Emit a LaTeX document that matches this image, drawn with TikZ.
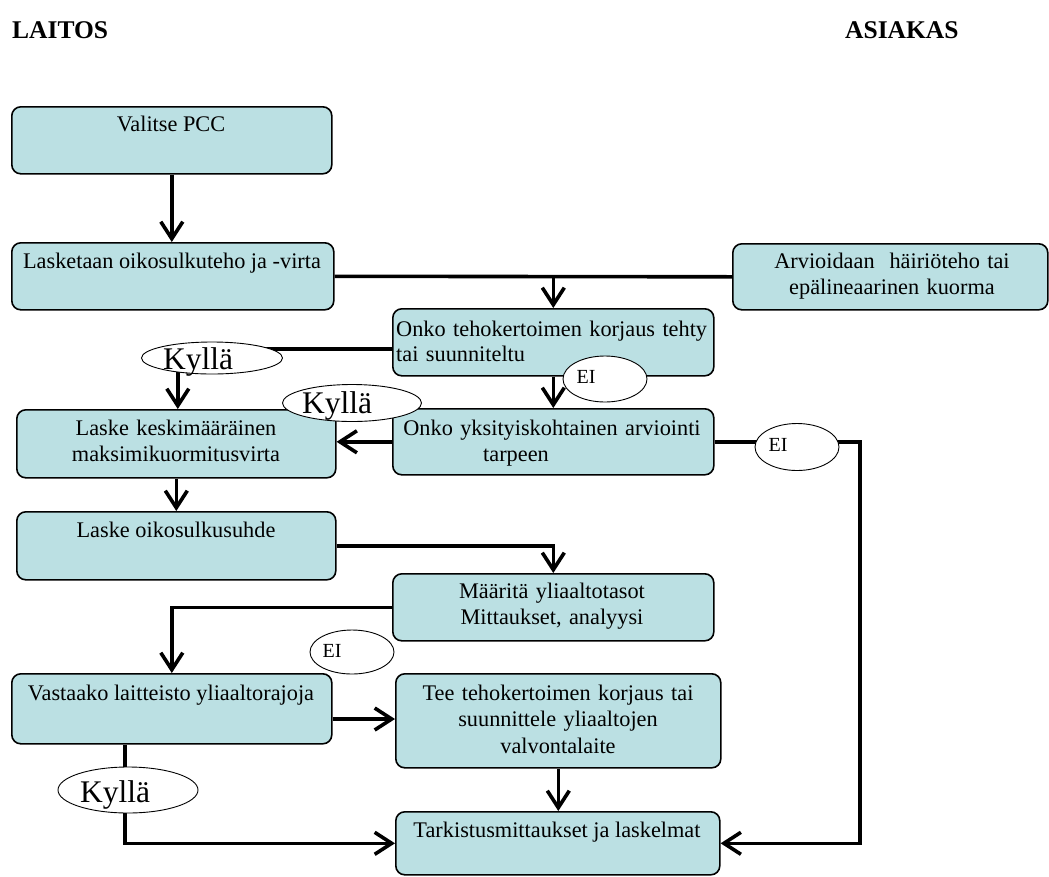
\documentclass[tikz,border=0pt]{standalone}
\usepackage{fontspec}
\setmainfont{Liberation Serif}
\usetikzlibrary{arrows.meta,shapes.geometric,backgrounds}
\definecolor{boxfill}{RGB}{187,224,227}
\tikzset{
  stepbox/.style={draw, line width=1.6pt, rounded corners=9pt, fill=boxfill, inner sep=0pt, anchor=north west},
  txt/.style={inner sep=0pt, font=\fontsize{22.3}{26.5}\selectfont, anchor=base},
  mtxt/.style={txt, text width=#1, align=center},
  ltxt/.style={inner sep=0pt, font=\fontsize{22.3}{25.5}\selectfont, anchor=base west, text width=315pt, align=left},
  oval/.style={draw, ellipse, line width=0.9pt, fill=white, inner sep=0pt},
  bigtxt/.style={inner sep=0pt, font=\fontsize{31.5}{34}\selectfont, anchor=base},
  eitxt/.style={inner sep=0pt, font=\fontsize{20}{22}\selectfont, anchor=base},
  ttl/.style={inner sep=0pt, font=\fontsize{25.5}{28}\selectfont\bfseries, anchor=base west},
  conn/.style={line width=3.6pt},
  arr/.style={line width=3.6pt, -{Straight Barb[length=17pt,width=22pt]}}
}
\begin{document}
\begin{tikzpicture}[x=1pt,y=-1pt]
\useasboundingbox (0,0) rectangle (1049,876);
% titles
\node[ttl] (laitos) at (12,38) {LAITOS};
\node[ttl] (asiakas) at (845,38) {ASIAKAS};
% boxes
\node[stepbox, minimum width=320pt, minimum height=67pt] (b1) at (11,106) {};
\node[stepbox, minimum width=322pt, minimum height=67pt] (b2) at (11,242) {};
\node[stepbox, minimum width=315pt, minimum height=66pt] (b3) at (732,243) {};
\node[stepbox, minimum width=321pt, minimum height=67pt] (b4) at (392,308) {};
\node[stepbox, minimum width=321pt, minimum height=66pt] (b5) at (392,408) {};
\node[stepbox, minimum width=319pt, minimum height=68pt] (b6) at (16,409) {};
\node[stepbox, minimum width=319pt, minimum height=68pt] (b7) at (16,511) {};
\node[stepbox, minimum width=321pt, minimum height=67pt] (b8) at (392,573) {};
\node[stepbox, minimum width=320pt, minimum height=70pt] (b9) at (11,673) {};
\node[stepbox, minimum width=325pt, minimum height=94pt] (b10) at (395,673) {};
\node[stepbox, minimum width=324pt, minimum height=63pt] (b11) at (395,811) {};
% texts in boxes
\node[txt] (t1) at (171,131) {Valitse PCC};
\node[txt] (t2) at (172,268) {Lasketaan oikosulkuteho ja -virta};
\node[mtxt=310pt] (t3) at (892,268) {Arvioidaan\ \ häiriöteho tai\\epälineaarinen kuorma};
\node[ltxt] (t4) at (396,336) {Onko tehokertoimen korjaus tehty\\tai suunniteltu};
\node[mtxt=318pt] (t5) at (552,435) {Onko yksityiskohtainen arviointi\\tarpeen\hspace*{72pt}\null};
\node[mtxt=315pt] (t6) at (176,435) {Laske keskimääräinen\\maksimikuormitusvirta};
\node[txt] (t7) at (176,537) {Laske oikosulkusuhde};
\node[mtxt=315pt] (t8) at (552,598) {Määritä yliaaltotasot\\Mittaukset, analyysi};
\node[txt] (t9) at (171,700) {Vastaako laitteisto yliaaltorajoja};
\node[mtxt=320pt] (t10) at (558,700) {Tee tehokertoimen korjaus tai\\suunnittele yliaaltojen\\valvontalaite};
\node[txt] (t11) at (557,837) {Tarkistusmittaukset ja laskelmat};
% helper coordinates
\coordinate (y349) at (0,349);
\coordinate (y719) at (0,719);
\coordinate (x125) at (125,0);
\coordinate (rt) at (860,443);
% ovals
\node[oval, minimum width=141pt, minimum height=32pt] (k1) at (212,358) {};
\node[oval, minimum width=139pt, minimum height=37pt] (k2) at (352,403) {};
\node[oval, minimum width=140pt, minimum height=46pt] (k3) at (128,790) {};
\node[oval, minimum width=84pt, minimum height=46pt] (e1) at (605,379) {};
\node[oval, minimum width=84pt, minimum height=47pt] (e2) at (797,447) {};
\node[oval, minimum width=84pt, minimum height=44pt] (e3) at (352,652) {};
% connectors
\begin{scope}[on background layer]
\draw[arr] (b1.south) -- (b1.south |- b2.north);
\draw[conn] (b2.east) -- (b3.west);
\draw[arr] (b4.north |- b2.east) -- (b4.north);
\draw[conn] (b4.west |- y349) -- (k1.center |- y349);
\draw[arr] (b6.north |- k1.center) ++(1.5,0) -- ++(0,51);
\draw[arr] (b4.south) -- (b5.north);
\draw[arr] (b5.west) -- (b5.west -| b6.east);
\draw[arr] (b5.east) -- (b5.east -| rt) |- (b11.east);
\draw[arr] (b6.south) -- (b7.north);
\draw[arr] (b7.east) -| (b8.north);
\draw[arr] (b8.west) -| (b9.north);
\draw[arr] (b9.east |- y719) -- (b10.west |- y719);
\draw[arr] (b10.south) -- (b10.south |- b11.north);
\draw[arr] (x125 |- b9.south) |- (b11.west);
\end{scope}
\node[bigtxt] (k1t) at (198,369) {Kyllä};
\node[bigtxt] (k2t) at (337,413) {Kyllä};
\node[bigtxt] (k3t) at (115,802) {Kyllä};
\node[eitxt] (e1t) at (586,383) {EI};
\node[eitxt] (e2t) at (778,451) {EI};
\node[eitxt] (e3t) at (332,657) {EI};
\end{tikzpicture}
\end{document}
